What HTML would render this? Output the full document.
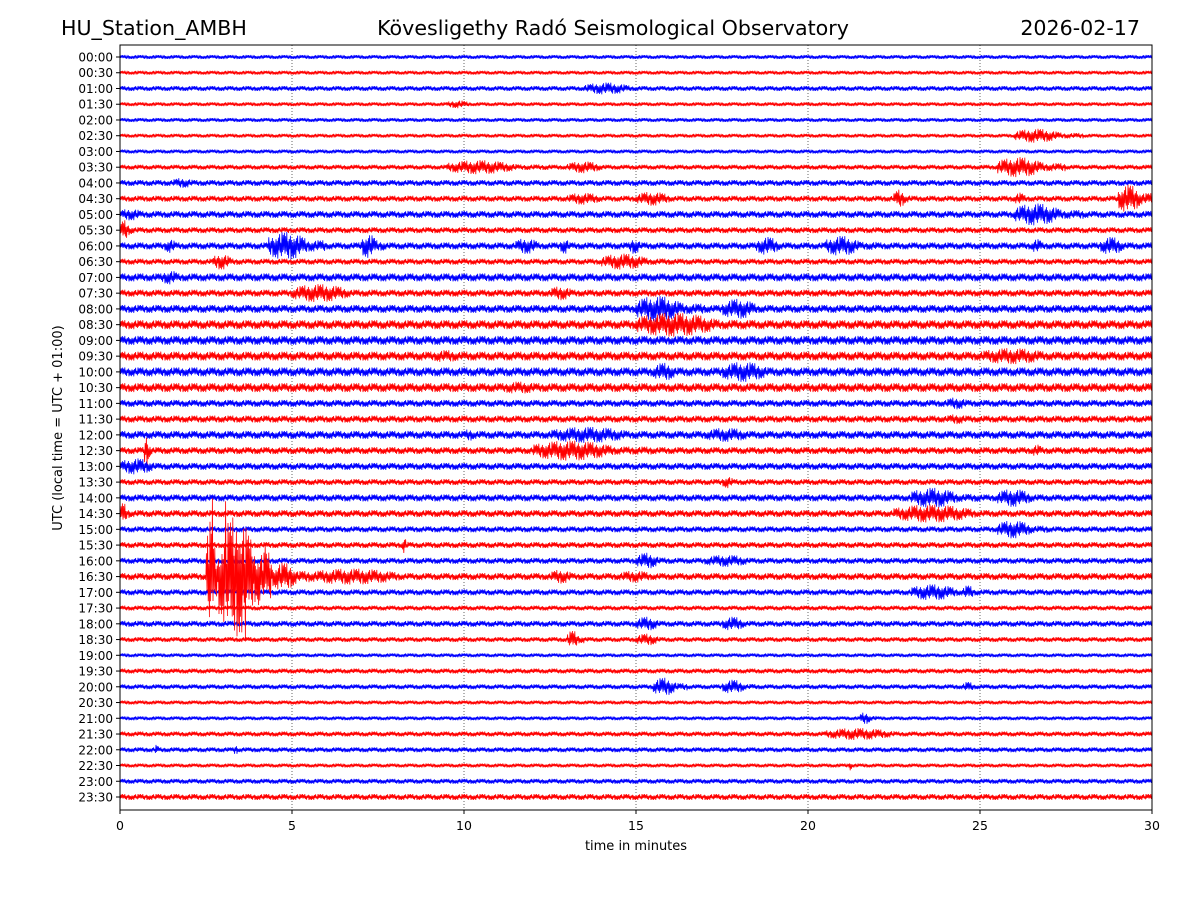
<!DOCTYPE html>
<html><head><meta charset="utf-8"><style>
body{margin:0;background:#fff;}
svg text{font-family:"DejaVu Sans","Liberation Sans",sans-serif;}
</style></head><body>
<svg id="c" width="1200" height="900" viewBox="0 0 1200 900">
<rect width="1200" height="900" fill="#fff"/>
<text x="61" y="35" font-size="20.6">HU_Station_AMBH</text>
<text x="613" y="35" font-size="20.6" text-anchor="middle">Kövesligethy Radó Seismological Observatory</text>
<text x="1140" y="35" font-size="20.6" text-anchor="end">2026-02-17</text>
<g id="grid"></g>
<g id="traces"></g>
<rect x="120" y="45" width="1032" height="765" fill="none" stroke="#000" stroke-width="1"/>
<g id="yaxis"></g>
<g id="xaxis"></g>
<text x="636" y="850" font-size="13" text-anchor="middle">time in minutes</text>
<text transform="translate(62,428) rotate(-90)" font-size="13" text-anchor="middle">UTC (local time = UTC + 01:00)</text>
</svg>
<script>
const xTicks=[0,5,10,15,20,25,30];
const baseAmp=[2,2,2.5,2,2,2,2,2.5,3,3,3.5,3,3.5,3,4,3.5,4,4.5,4.5,4.5,4.5,4.5,3.5,3.5,4,3.5,3.5,3,3.5,3.5,3,3,3,3.5,3,2.5,3,2.5,2,2.5,2.5,2,2,2.5,2.5,2,2.5,3];
const events=[[2,13.5,15.5,6],[3,9.5,10.5,4],[5,26,28,7],[7,9.5,12.5,7],[7,13,14.5,6],[7,25.5,27.5,10],[8,1.5,2.5,5],[9,13,14.5,6],[9,15,16.5,7],[9,22.5,23,9],[9,26,26.5,6],[9,29,30,14],[10,0,1,6],[10,26,28,11],[11,0,0.4,10],[12,1.3,1.8,7],[12,4.3,6,14],[12,7,7.7,12],[12,11.5,12.5,8],[12,12.8,13.2,8],[12,14.8,15.3,8],[12,18.5,19.5,9],[12,20.5,22,10],[12,26.5,27,7],[12,28.5,29.5,9],[13,2.7,3.5,8],[13,14,16,8],[14,1.2,2,7],[15,5,7.5,9],[15,12.5,13.5,7],[16,15,17,13],[16,17.5,19,10],[17,15,18.5,12],[19,9,10.5,6],[19,25,28,8],[20,15.5,16.5,9],[20,17.5,19.5,10],[21,11,13,6],[22,24,25,6],[23,24,25,5],[24,10,10.5,6],[24,12.5,16,8],[24,17,19,7],[25,0.7,0.9,17],[25,12,15.5,10],[25,26.5,27,6],[26,0,1.5,8],[27,17.5,18,6],[28,23,25,10],[28,25.5,27,9],[29,0,0.3,11],[29,22.5,26,9],[30,25.5,27,9],[31,8.2,8.4,8],[32,15,16,8],[32,17,19,6],[33,2.5,2.9,55],[33,2.9,4.4,60],[33,4.4,5.5,14],[33,5.5,9.5,8],[33,12.5,13.5,7],[33,14.5,16,6],[34,23,25,8],[34,24.5,25,7],[36,15,16,7],[36,17.5,18.5,7],[37,13,13.5,9],[37,15,16,6],[40,15.5,16.5,9],[40,17.5,18.5,7],[40,24.5,25,5],[42,21.5,22,6],[43,20.5,23.5,6],[44,1,1.2,5],[44,3.3,3.5,5],[45,21.2,21.3,6]];
const NS='http://www.w3.org/2000/svg';
const X0=120,X1=1152,Y0=57,DY=(797-57)/47;
const xs=m=>X0+(X1-X0)*m/30;
const ys=r=>Y0+r*DY;
const wig=[1,0.45,0.8,0.3,0.95,0.55,0.7,0.4,1,0.65,0.35,0.9,0.5,0.25,0.75];
const grid=document.getElementById('grid'),tr=document.getElementById('traces'),ya=document.getElementById('yaxis'),xa=document.getElementById('xaxis');
function mk(t,a,p){const e=document.createElementNS(NS,t);for(const k in a)e.setAttribute(k,a[k]);p.appendChild(e);return e;}
xTicks.forEach(t=>{
  const x=xs(t);
  if(t>0&&t<30){const g=mk('line',{x1:x,x2:x,y1:45,y2:810,stroke:'#000','stroke-width':0.6,'stroke-dasharray':'1,2'},grid);
  
  }
  const l=mk('line',{x1:x,x2:x,y1:810,y2:814,stroke:'#000'},xa);
  
  
  const tx=mk('text',{x:x,y:830,'font-size':12.5,'text-anchor':'middle'},xa);tx.textContent=t;
  
  
});
const paths=[];
baseAmp.forEach((b,r)=>{
  const y=ys(r);
  const h=String(Math.floor(r/2)).padStart(2,'0')+':'+(r%2?'30':'00');
  const tk=mk('line',{x1:116,x2:120,y1:y,y2:y,stroke:'#000'},ya);
  
  
  const tx=mk('text',{x:113,y:y+4.5,'font-size':12,'text-anchor':'end'},ya);tx.textContent=h;
  
  
  const ev=events.filter(e=>e[0]===r);
  let d='',i=0;
  for(let px=X0;px<=X1;px+=0.6,i++){
    const m=(px-X0)/(X1-X0)*30;let a=b;
    ev.forEach(e=>{if(m>=e[1]&&m<=e[2]){const f=(m-e[1])/(e[2]-e[1]);const env=Math.sin(Math.PI*Math.min(1,f*1.3+0.1))*0.6+0.4;a=Math.max(a,e[3]*env);}});
    let w=wig[i%wig.length];
    if(a>20 && i%11===0) w*=1.7;
    const v=(i%2?1:-1)*a*w;
    d+=(i?'L':'M')+px.toFixed(1)+' '+(y+v).toFixed(1);
  }
  const p=mk('path',{d:d,fill:'none',stroke:r%2?'#ff0000':'#0000ff','stroke-width':0.8},tr);
  
  
  if(r===33) paths.push(p);
});
paths.forEach(p=>tr.appendChild(p));
</script>
</body></html>
